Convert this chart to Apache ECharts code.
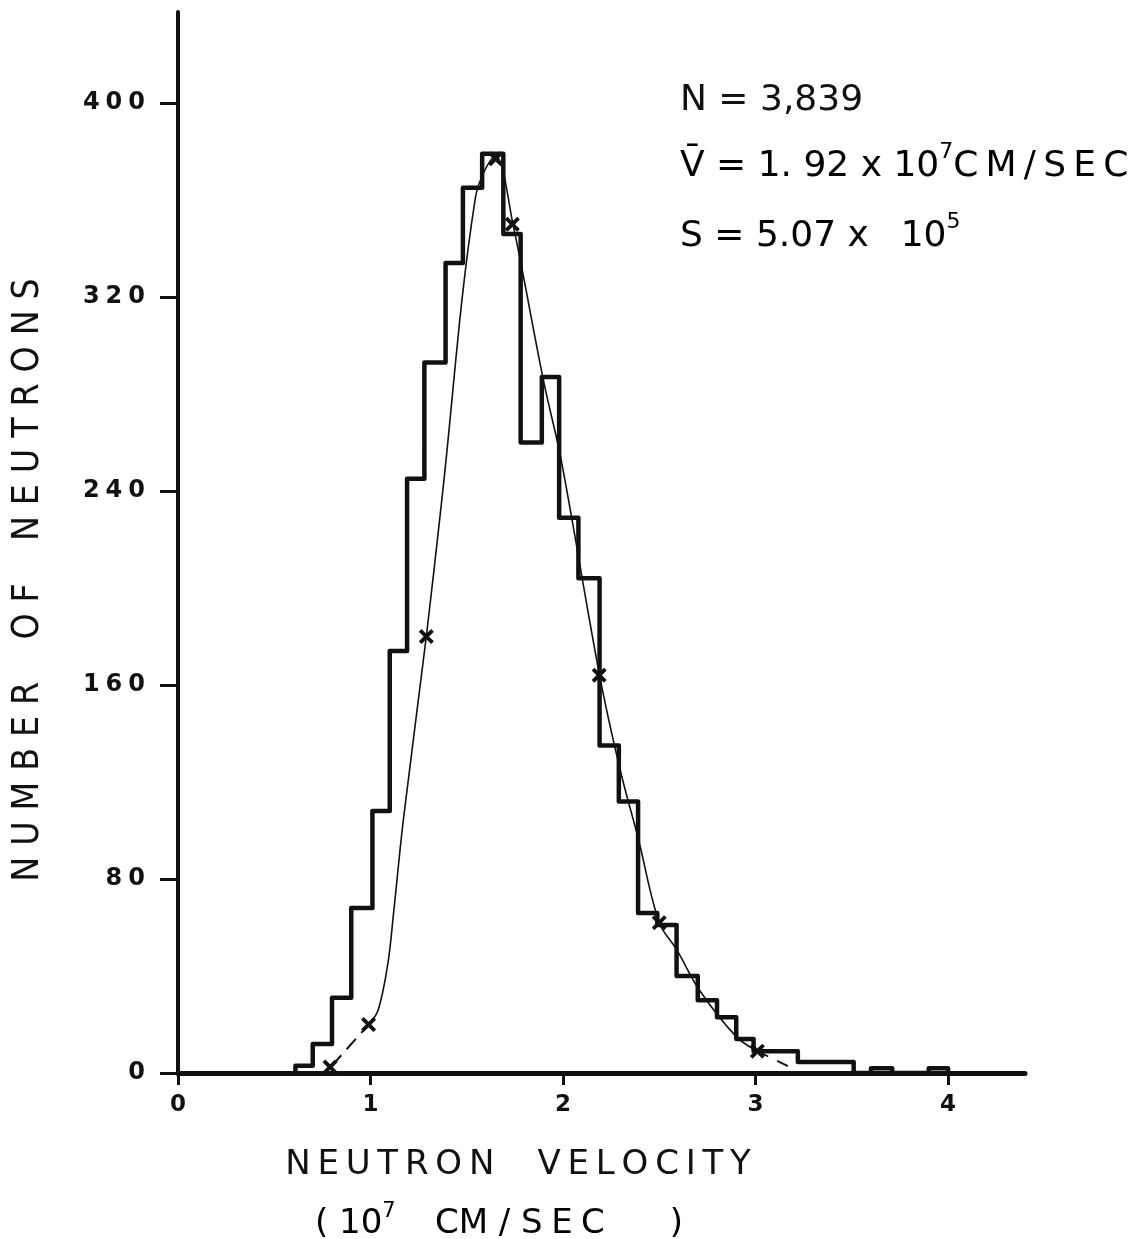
<!DOCTYPE html>
<html>
<head>
<meta charset="utf-8">
<script src="https://cdn.jsdelivr.net/npm/echarts@6/dist/echarts.min.js"></script>
<style>
html, body { margin: 0; padding: 0; background: #fff; }
#chart { width: 1133px; height: 1239px; }
</style>
</head>
<body>
<div id="chart"></div>
<script>
// histogram bins (velocity in 10^7 cm/sec) and neutron counts
var binLeft  = [0.61, 0.70, 0.80, 0.90, 1.01, 1.10, 1.19, 1.28, 1.39, 1.48, 1.58, 1.69, 1.78, 1.89, 1.98, 2.08, 2.19, 2.29, 2.39, 2.49, 2.59, 2.70, 2.80, 2.90, 2.99, 3.22, 3.60, 3.90];
var binRight = [0.70, 0.80, 0.90, 1.01, 1.10, 1.19, 1.28, 1.39, 1.48, 1.58, 1.69, 1.78, 1.89, 1.98, 2.08, 2.19, 2.29, 2.39, 2.49, 2.59, 2.70, 2.80, 2.90, 2.99, 3.22, 3.51, 3.71, 4.00];
var counts   = [3, 12, 31, 68, 108, 174, 245, 293, 334, 365, 379, 346, 260, 287, 229, 204, 135, 112, 66, 61, 40, 30, 23, 14, 9, 4.5, 2, 2];

// hand drawn fit curve
var fitV = [0.99, 1.04, 1.09, 1.12, 1.17, 1.29, 1.37, 1.545, 1.65, 1.74, 1.90, 1.99, 2.19, 2.30, 2.39, 2.50, 2.59, 2.71, 2.90, 3.01];
var fitN = [20, 26, 45, 66, 104, 180, 236, 361, 378, 350, 285, 253, 164, 124, 97, 62, 51, 34, 15, 9];
var dashLeftV = [0.80, 0.99], dashLeftN = [3, 20];
var dashRightV = [3.01, 3.19], dashRightN = [9, 2];

// x markers on the curve
var markV = [0.79, 0.99, 1.29, 1.65, 1.737, 2.188, 2.50, 3.01];
var markN = [2.5, 20, 180, 377, 350, 164, 62, 9];

var xTicks = [0, 1, 2, 3, 4];
var yTicks = [0, 80, 160, 240, 320, 400];

function zip(a, b) { return a.map(function (v, i) { return [v, b[i]]; }); }

function stepOutline(l, r, c) {
  var pts = [];
  for (var i = 0; i < c.length; i++) {
    if (i === 0 || l[i] !== r[i - 1]) pts.push([l[i], 0]);
    pts.push([l[i], c[i]]);
    pts.push([r[i], c[i]]);
    if (i === c.length - 1 || l[i + 1] !== r[i]) pts.push([r[i], 0]);
  }
  return pts;
}

function spaced(s, sep) { return s.split('').join(sep); }

var ink = '#111';
var xMark = 'path://M0,1.8 L1.8,0 L5,3.2 L8.2,0 L10,1.8 L6.8,5 L10,8.2 L8.2,10 L5,6.8 L1.8,10 L0,8.2 L3.2,5 Z';
var letterFont = '"DejaVu Sans", sans-serif';
var supRich = function (size, lh) {
  return {
    a: { fontSize: size, fontFamily: letterFont, lineHeight: lh, verticalAlign: 'bottom', color: ink },
    s: { fontSize: Math.round(size * 0.62), fontFamily: letterFont, lineHeight: lh, verticalAlign: 'top', color: ink }
  };
};

var chart = echarts.init(document.getElementById('chart'));
chart.setOption({
  animation: false,
  backgroundColor: '#fff',
  grid: { left: 178, right: 108, top: 12, bottom: 166 },
  xAxis: {
    type: 'value', min: 0, max: 4.4, interval: 1,
    splitLine: { show: false },
    axisLine: { lineStyle: { color: ink, width: 5 } },
    axisTick: { length: 12, customValues: xTicks, lineStyle: { color: ink, width: 3 } },
    axisLabel: { customValues: xTicks, margin: 21, color: ink, fontSize: 23, fontWeight: 'bold', fontFamily: letterFont }
  },
  yAxis: {
    type: 'value', min: 0, max: 437.5, interval: 80,
    splitLine: { show: false },
    axisLine: { lineStyle: { color: ink, width: 4 } },
    axisTick: { length: 18, customValues: yTicks, lineStyle: { color: ink, width: 3 } },
    axisLabel: {
      customValues: yTicks, margin: 33, color: ink, fontSize: 24, fontWeight: 'bold', fontFamily: letterFont,
      formatter: function (v) { return spaced(String(v), '\u2005'); }
    }
  },
  series: [
    {
      type: 'line', data: stepOutline(binLeft, binRight, counts), showSymbol: false,
      lineStyle: { color: ink, width: 4.5, join: 'round', cap: 'round' }, z: 3
    },
    {
      type: 'line', data: zip(fitV, fitN), showSymbol: false, smooth: 0.35,
      lineStyle: { color: ink, width: 1.6 }, z: 2
    },
    {
      type: 'line', data: zip(dashLeftV, dashLeftN), showSymbol: false,
      lineStyle: { color: ink, width: 2, type: [14, 8] }, z: 2
    },
    {
      type: 'line', data: zip(dashRightV, dashRightN), showSymbol: false,
      lineStyle: { color: ink, width: 1.8, type: [12, 10] }, z: 2
    },
    {
      type: 'scatter', data: zip(markV, markN), symbol: xMark, symbolSize: 15,
      itemStyle: { color: ink, opacity: 1 }, z: 4
    }
  ],
  graphic: [
    {
      type: 'text', x: 28, y: 580, rotation: Math.PI / 2,
      style: {
        text: spaced('NUMBER', '\u2004') + '    ' + spaced('OF', '\u2004') + '    ' + spaced('NEUTRONS', '\u2004'),
        font: '37px "DejaVu Sans Condensed", "DejaVu Sans", sans-serif',
        fill: ink, align: 'center', verticalAlign: 'middle'
      }
    },
    {
      type: 'text', x: 518, y: 1165,
      style: {
        text: spaced('NEUTRON', '\u2009') + '    ' + spaced('VELOCITY', '\u2009'),
        font: '34px ' + letterFont, fill: ink, align: 'center', verticalAlign: 'middle'
      }
    },
    {
      type: 'text', x: 315, y: 1221,
      style: {
        text: '{a|( 10}{s|7}{a|   \u2009CM / S\u2005E\u2005C      )}',
        align: 'left', verticalAlign: 'middle',
        rich: supRich(34, 40)
      }
    },
    {
      type: 'text', x: 680, y: 101,
      style: {
        text: 'N = 3,839', font: '36px ' + letterFont, fill: ink, align: 'left', verticalAlign: 'middle'
      }
    },
    {
      type: 'text', x: 680, y: 163,
      style: {
        text: '{a|V\u0304 = 1. 92 x 10}{s|7}{a|C\u2009M\u2009/\u2009S\u2009E\u2009C}',
        align: 'left', verticalAlign: 'middle',
        rich: supRich(36, 44)
      }
    },
    {
      type: 'text', x: 680, y: 233,
      style: {
        text: '{a|S = 5.07 x \u2005 10}{s|5}',
        align: 'left', verticalAlign: 'middle',
        rich: supRich(36, 44)
      }
    }
  ]
});
</script>
</body>
</html>
